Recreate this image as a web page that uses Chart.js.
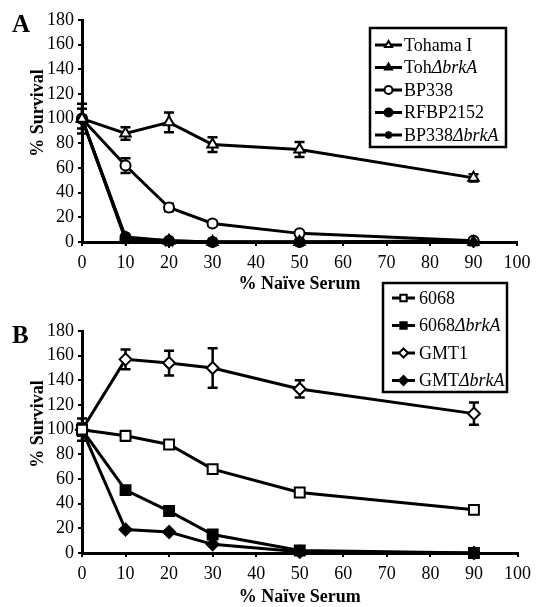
<!DOCTYPE html>
<html>
<head>
<meta charset="utf-8">
<script src="https://cdn.jsdelivr.net/npm/chart.js@4.4.0/dist/chart.umd.min.js"></script>
<style>
  html, body { margin: 0; padding: 0; background: #fff; }
  #wrap { position: relative; width: 537px; height: 607px; }
  canvas { position: absolute; left: 0; top: 0; }
</style>
</head>
<body>
<div id="wrap">
  <canvas id="chartA" width="537" height="607"></canvas>
  <canvas id="chartB" width="537" height="607"></canvas>
</div>
<script>
// x values (% naive serum) shared by both panels
const serumPct = [0, 10, 20, 30, 50, 90];

// Panel A
const namesA = ['Tohama I', 'TohΔbrkA', 'BP338', 'RFBP2152', 'BP338ΔbrkA'];
const tohamaI    = [100, 88, 97, 79, 75, 52];
const tohamaIErr = [12, 5, 8, 6, 6, 3];
const tohBrkA    = [100, 3, 1, 0, 0, 0];
const bp338      = [100, 62, 28, 15, 7, 1];
const bp338Err   = [8, 6, 3, 2, 1, 1];
const rfbp2152   = [100, 4, 1, 0, 0, 1];
const bp338BrkA  = [100, 2, 0, 0, 0, 0];

// Panel B
const namesB = ['6068', '6068ΔbrkA', 'GMT1', 'GMTΔbrkA'];
const s6068      = [100, 95, 88, 68, 49, 35];
const s6068Err   = [5, 4, 2, 3, 2, 2];
const s6068BrkA  = [100, 51, 34, 15, 2, 0];
const gmt1       = [100, 157, 154, 150, 133, 113];
const gmt1Err    = [9, 8, 10, 16, 7, 9];
const gmtBrkA    = [100, 19, 17, 7, 1, 0];

const FONT = "'Liberation Serif', 'Times New Roman', serif";
Chart.defaults.font.family = FONT;
Chart.defaults.font.size = 18;
Chart.defaults.color = '#000';

function pts(vals) {
  return vals.map((v, i) => ({ x: serumPct[i], y: v }));
}

function makeSet(label, vals, style, fill, r) {
  return {
    label: label,
    data: pts(vals),
    borderColor: '#000',
    borderWidth: 3,
    tension: 0,
    clip: false,
    pointStyle: style,
    pointRadius: r,
    pointBackgroundColor: fill,
    pointBorderColor: '#000',
    pointBorderWidth: 2,
    pointHoverRadius: r
  };
}

// draws a marker (falls back if helpers missing)
function marker(ctx, style, fill, r, x, y) {
  ctx.save();
  ctx.fillStyle = fill;
  ctx.strokeStyle = '#000';
  ctx.lineWidth = 2;
  if (Chart.helpers && Chart.helpers.drawPoint) {
    Chart.helpers.drawPoint(ctx, { pointStyle: style, radius: r, borderWidth: 2, rotation: 0 }, x, y);
  } else {
    ctx.beginPath();
    ctx.arc(x, y, r, 0, Math.PI * 2);
    ctx.fill();
    ctx.stroke();
  }
  ctx.restore();
}

// text with the part from "Δ" onward in italics
function mixedText(ctx, name, x, y) {
  const k = name.indexOf('Δ');
  const plain = k < 0 ? name : name.slice(0, k);
  const ital = k < 0 ? '' : name.slice(k);
  ctx.font = '18px ' + FONT;
  ctx.fillText(plain, x, y);
  const w = ctx.measureText(plain).width;
  if (ital) {
    ctx.font = 'italic 18px ' + FONT;
    ctx.fillText(ital, x + w, y);
  }
}

function decoPlugin(cfg) {
  return {
    id: 'deco',
    beforeDatasetsDraw(chart) {
      const ctx = chart.ctx;
      const xs = chart.scales.x, ys = chart.scales.y;
      ctx.save();
      ctx.strokeStyle = '#000';
      ctx.lineWidth = 2.5;
      cfg.errors.forEach(e => {
        const vals = e.vals;
        e.err.forEach((d, i) => {
          if (!d) return;
          const px = xs.getPixelForValue(serumPct[i]);
          const y1 = ys.getPixelForValue(vals[i] + d);
          const y2 = ys.getPixelForValue(vals[i] - d);
          ctx.beginPath();
          ctx.moveTo(px, y1); ctx.lineTo(px, y2);
          ctx.moveTo(px - 5, y1); ctx.lineTo(px + 5, y1);
          ctx.moveTo(px - 5, y2); ctx.lineTo(px + 5, y2);
          ctx.stroke();
        });
      });
      ctx.restore();
    },
    afterDraw(chart) {
      const ctx = chart.ctx;
      const a = chart.chartArea;
      ctx.save();
      ctx.fillStyle = '#000';

      // panel letter
      ctx.font = 'bold 25px ' + FONT;
      ctx.textAlign = 'left';
      ctx.textBaseline = 'alphabetic';
      ctx.fillText(cfg.letter, 12, a.top + 12);

      // axis titles
      ctx.font = 'bold 18px ' + FONT;
      ctx.textAlign = 'center';
      ctx.textBaseline = 'middle';
      ctx.fillText('% Naïve Serum', (a.left + a.right) / 2, a.bottom + cfg.xTitleGap);
      ctx.save();
      ctx.translate(38, (a.top + a.bottom) / 2 - 18);
      ctx.rotate(-Math.PI / 2);
      ctx.fillText('% Survival', 0, 0);
      ctx.restore();

      // legend
      const b = cfg.box;
      ctx.strokeStyle = '#000';
      ctx.lineWidth = 2.5;
      ctx.strokeRect(b.x, b.y, b.w, b.h);
      ctx.textAlign = 'left';
      chart.data.datasets.forEach((ds, i) => {
        const y = b.row0 + i * b.step;
        ctx.lineWidth = 3;
        ctx.beginPath();
        ctx.moveTo(b.x + b.l0, y);
        ctx.lineTo(b.x + b.l1, y);
        ctx.stroke();
        marker(ctx, ds.pointStyle, ds.pointBackgroundColor, b.mr, (b.x + b.l0 + b.x + b.l1) / 2, y);
        ctx.fillStyle = '#000';
        ctx.textBaseline = 'middle';
        mixedText(ctx, ds.label, b.x + b.tx, y + 1);
      });
      ctx.restore();
    }
  };
}

function scales() {
  return {
    x: {
      type: 'linear', min: 0, max: 100,
      afterFit(s) { s.height = 30; },
      ticks: { stepSize: 10, padding: 6, maxRotation: 0, font: { size: 18 } },
      grid: { drawOnChartArea: false, color: '#000', lineWidth: 2, tickLength: 4 },
      border: { color: '#000', width: 3 }
    },
    y: {
      min: 0, max: 180,
      afterFit(s) { s.width = 82; },
      ticks: { stepSize: 20, padding: 4, font: { size: 18 } },
      grid: { drawOnChartArea: false, color: '#000', lineWidth: 2, tickLength: 4 },
      border: { color: '#000', width: 3 }
    }
  };
}

function baseOptions(pad) {
  return {
    responsive: false,
    animation: false,
    devicePixelRatio: 1,
    layout: { padding: pad },
    plugins: { legend: { display: false }, tooltip: { enabled: false } },
    events: [],
    scales: scales()
  };
}

new Chart(document.getElementById('chartA'), {
  type: 'line',
  data: {
    datasets: [
      makeSet(namesA[0], tohamaI, 'triangle', '#fff', 6),
      makeSet(namesA[1], tohBrkA, 'triangle', '#000', 6),
      makeSet(namesA[2], bp338, 'circle', '#fff', 5),
      makeSet(namesA[3], rfbp2152, 'circle', '#000', 5),
      makeSet(namesA[4], bp338BrkA, 'star', '#000', 6)
    ]
  },
  options: baseOptions({ top: 20, right: 20, left: 0, bottom: 607 - 242 - 30 }),
  plugins: [decoPlugin({
    letter: 'A',
    xTitleGap: 42,
    errors: [{ vals: tohamaI, err: tohamaIErr }, { vals: bp338, err: bp338Err }],
    box: { x: 370, y: 28, w: 136, h: 119, row0: 45, step: 22.5, l0: 5, l1: 32, tx: 34, mr: 4 }
  })]
});

new Chart(document.getElementById('chartB'), {
  type: 'line',
  data: {
    datasets: [
      makeSet(namesB[0], s6068, 'rect', '#fff', 7),
      makeSet(namesB[1], s6068BrkA, 'rect', '#000', 7),
      makeSet(namesB[2], gmt1, 'rectRot', '#fff', 6),
      makeSet(namesB[3], gmtBrkA, 'rectRot', '#000', 6)
    ]
  },
  options: baseOptions({ top: 331, right: 19, left: 0, bottom: 607 - 553 - 30 }),
  plugins: [decoPlugin({
    letter: 'B',
    xTitleGap: 44,
    errors: [{ vals: s6068, err: s6068Err }, { vals: gmt1, err: gmt1Err }],
    box: { x: 383, y: 283, w: 124, h: 109, row0: 298, step: 27.5, l0: 9, l1: 32, tx: 36, mr: 4.5 }
  })]
});
</script>
</body>
</html>
